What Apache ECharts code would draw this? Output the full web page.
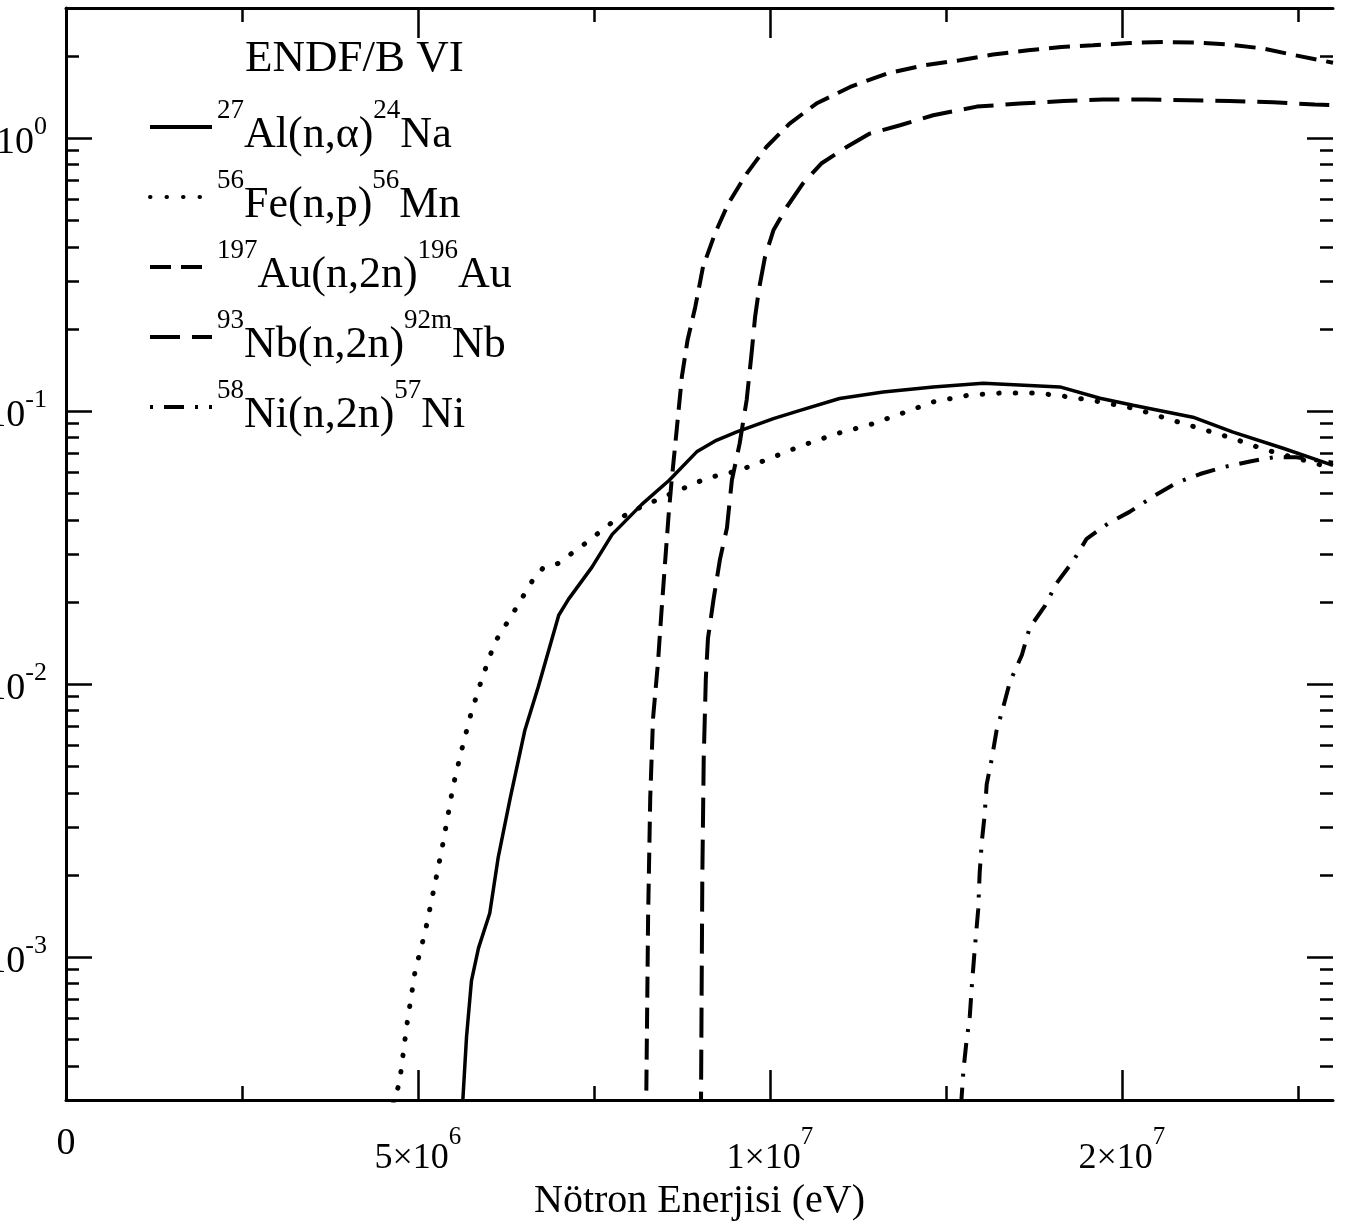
<!DOCTYPE html>
<html>
<head>
<meta charset="utf-8">
<title>ENDF/B VI</title>
<script src="https://cdn.jsdelivr.net/npm/echarts@6/dist/echarts.min.js"></script>
<style>
  html, body { margin: 0; padding: 0; background: #fff; }
  #chart { width: 1349px; height: 1228px; }
</style>
</head>
<body>
<div id="chart"></div>
<script>
// energies in MeV, cross sections
const alE = [5.62, 5.69, 5.76, 5.86, 6.02, 6.14, 6.31, 6.52, 6.71, 7.00, 7.14, 7.47, 7.76, 8.18, 8.57, 8.96, 9.24, 9.53, 10.05, 10.43, 10.99, 11.61, 12.32, 13.03, 14.12, 14.69, 15.16, 16.01, 16.58, 17.29, 18.0];
const alSigma = [2.5e-4, 5.1e-4, 8.2e-4, 1.08e-3, 1.45e-3, 2.32e-3, 3.82e-3, 6.8e-3, 9.8e-3, 0.0179, 0.0205, 0.0268, 0.0354, 0.0456, 0.0559, 0.0710, 0.0783, 0.0840, 0.0940, 0.1008, 0.1114, 0.1177, 0.1228, 0.1267, 0.1228, 0.1116, 0.1052, 0.0951, 0.0838, 0.0732, 0.0634];

const feE = [4.65, 4.74, 4.84, 4.96, 5.10, 5.26, 5.36, 5.50, 5.62, 5.75, 5.91, 6.09, 6.35, 6.62, 6.78, 6.99, 7.37, 7.77, 8.20, 8.65, 9.10, 9.57, 10.05, 10.47, 10.95, 11.40, 11.87, 12.32, 12.82, 13.29, 13.79, 14.26, 14.71, 15.19, 15.64, 16.11, 16.58, 17.03, 17.50, 18.0];
const feSigma = [2.9e-4, 3.5e-4, 5.6e-4, 8.9e-4, 1.23e-3, 1.96e-3, 2.65e-3, 4.24e-3, 5.73e-3, 7.75e-3, 0.0105, 0.0142, 0.0182, 0.0238, 0.0267, 0.0277, 0.0327, 0.0394, 0.0450, 0.0506, 0.0568, 0.0608, 0.0680, 0.0751, 0.0828, 0.0889, 0.0981, 0.1082, 0.1145, 0.1167, 0.1167, 0.1128, 0.1081, 0.1022, 0.0940, 0.0865, 0.0795, 0.0724, 0.0671, 0.0618];

const auE = [8.24, 8.27, 8.30, 8.34, 8.41, 8.46, 8.51, 8.56, 8.60, 8.68, 8.75, 8.83, 8.94, 9.05, 9.22, 9.41, 9.67, 9.95, 10.28, 10.66, 11.14, 11.66, 12.20, 12.70, 13.17, 13.67, 14.14, 14.59, 15.11, 15.59, 16.06, 16.53, 17.01, 17.46, 18.0];
const auSigma = [2.5e-4, 1.41e-3, 3.84e-3, 7.5e-3, 0.0120, 0.0185, 0.0277, 0.0413, 0.0543, 0.0876, 0.134, 0.182, 0.241, 0.338, 0.448, 0.577, 0.742, 0.929, 1.132, 1.340, 1.541, 1.726, 1.851, 1.931, 2.026, 2.101, 2.160, 2.191, 2.234, 2.253, 2.241, 2.204, 2.131, 2.014, 1.891];

const nbE = [9.02, 9.03, 9.04, 9.06, 9.09, 9.12, 9.20, 9.29, 9.39, 9.46, 9.57, 9.67, 9.74, 9.79, 9.85, 9.93, 10.05, 10.24, 10.47, 10.73, 11.09, 11.42, 11.85, 12.32, 12.94, 13.55, 14.17, 14.73, 15.35, 15.94, 16.53, 17.15, 17.74, 18.0];
const nbSigma = [2.5e-4, 7.2e-4, 1.96e-3, 5.36e-3, 0.0105, 0.0147, 0.0205, 0.0286, 0.0374, 0.0559, 0.0761, 0.110, 0.163, 0.222, 0.285, 0.367, 0.460, 0.560, 0.683, 0.808, 0.929, 1.040, 1.116, 1.214, 1.306, 1.340, 1.369, 1.386, 1.386, 1.378, 1.369, 1.355, 1.329, 1.321];

const niE = [12.70, 12.75, 12.79, 12.84, 12.87, 12.91, 12.96, 12.98, 13.01, 13.05, 13.08, 13.15, 13.22, 13.31, 13.41, 13.58, 13.69, 13.91, 14.07, 14.31, 14.50, 14.81, 15.11, 15.45, 15.78, 16.11, 16.44, 16.82, 17.15, 17.48, 18.0];
const niSigma = [2.5e-4, 3.86e-4, 4.84e-4, 6.08e-4, 7.91e-4, 1.07e-3, 1.50e-3, 2.03e-3, 2.64e-3, 3.30e-3, 4.30e-3, 5.29e-3, 6.76e-3, 8.16e-3, 0.0102, 0.0128, 0.0161, 0.0194, 0.0234, 0.0283, 0.0341, 0.0389, 0.0428, 0.0488, 0.0547, 0.0589, 0.0624, 0.0655, 0.0678, 0.0678, 0.0648];

const seriesNames = ['Al', 'Fe', 'Au', 'Nb', 'Ni'];
const legendLabels = [
  '{s|27}{m|Al(n,α)}{s|24}{m|Na}',
  '{s|56}{m|Fe(n,p)}{s|56}{m|Mn}',
  '{s|197}{m|Au(n,2n)}{s|196}{m|Au}',
  '{s|93}{m|Nb(n,2n)}{s|92m}{m|Nb}',
  '{s|58}{m|Ni(n,2n)}{s|57}{m|Ni}'
];

const xTickValues = [0, 5e6, 1e7, 1.5e7];
const xTickLabels = ['{z|0}', '{m|5×10}{s|6}', '{m|1×10}{s|7}', '{m|2×10}{s|7}'];
const xMajorTicks = [5e6, 1e7, 1.5e7];
const xMinorTicks = [2.5e6, 7.5e6, 12.5e6, 17.5e6];
const yDecadeExp = [-3, -2, -1, 0];

const ink = '#000';
const serif = 'Liberation Serif';

// minor ticks of the log axis: 2..9 times each decade, inside the frame
const yMinorTicks = [];
[1e-4, 1e-3, 1e-2, 1e-1, 1].forEach(d => {
  for (let m = 2; m <= 9; m++) {
    const v = m * d;
    if (v > 3.05e-4 && v < 2.95) yMinorTicks.push(v);
  }
});

const pairs = (e, s) => e.map((x, i) => [x * 1e6, s[i]]);

function lineSeries(name, e, s, style) {
  return {
    name: name,
    type: 'line',
    xAxisIndex: 0,
    yAxisIndex: 0,
    data: pairs(e, s),
    symbol: 'none',
    showSymbol: false,
    clip: true,
    lineStyle: Object.assign({ color: ink }, style),
    itemStyle: { color: ink },
    z: 3
  };
}

function xAxisFor(grid, pos, ticks, len, showLine, withLabels) {
  const ax = {
    gridIndex: grid,
    type: 'value',
    position: pos,
    min: 0,
    max: 18e6,
    axisLine: { show: showLine, onZero: false, lineStyle: { color: ink, width: 3 } },
    axisTick: { show: true, inside: true, length: len, customValues: ticks, lineStyle: { color: ink, width: 2.5 } },
    axisLabel: { show: false },
    splitLine: { show: false }
  };
  if (withLabels) {
    ax.axisLabel = {
      show: true,
      customValues: xTickValues,
      margin: 25,
      formatter: v => {
        const i = xTickValues.findIndex(t => Math.abs(t - v) < 1);
        return i < 0 ? '' : xTickLabels[i];
      },
      color: ink,
      fontFamily: serif,
      rich: {
        m: { fontSize: 36, fontFamily: serif, color: ink, lineHeight: 52, verticalAlign: 'bottom' },
        s: { fontSize: 25, fontFamily: serif, color: ink, lineHeight: 52, verticalAlign: 'top' },
        z: { fontSize: 38, fontFamily: serif, color: ink, lineHeight: 52, verticalAlign: 'top' }
      }
    };
    ax.name = 'Nötron Enerjisi (eV)';
    ax.nameLocation = 'middle';
    ax.nameGap = 73;
    ax.nameTextStyle = { fontFamily: serif, fontSize: 40, color: ink };
  }
  return ax;
}

function yAxisFor(grid, pos, minor, showLine, withLabels) {
  const ax = {
    gridIndex: grid,
    type: 'log',
    logBase: 10,
    position: pos,
    min: 3e-4,
    max: 3,
    axisLine: { show: showLine, onZero: false, lineStyle: { color: ink, width: 3 } },
    axisTick: { show: true, inside: true, length: minor ? 13 : 26, lineStyle: { color: ink, width: 2.5 } },
    axisLabel: { show: false },
    splitLine: { show: false },
    minorTick: { show: false }
  };
  if (minor) ax.axisTick.customValues = yMinorTicks;
  if (withLabels) {
    ax.axisLabel = {
      show: true,
      margin: 19,
      showMinLabel: false,
      showMaxLabel: false,
      formatter: v => {
        const p = Math.log10(v);
        const i = yDecadeExp.findIndex(k => Math.abs(k - p) < 1e-6);
        return i < 0 ? '' : '{m|10}{s|' + yDecadeExp[i] + '}';
      },
      color: ink,
      fontFamily: serif,
      rich: {
        m: { fontSize: 38, fontFamily: serif, color: ink, lineHeight: 48, verticalAlign: 'bottom' },
        s: { fontSize: 26, fontFamily: serif, color: ink, lineHeight: 48, verticalAlign: 'top' }
      }
    };
  }
  return ax;
}

const gridBox = { left: 66, right: 16, top: 8, bottom: 128, containLabel: false, outerBoundsMode: 'none' };

const chart = echarts.init(document.getElementById('chart'), null, { renderer: 'canvas' });

chart.setOption({
  animation: false,
  backgroundColor: '#fff',
  title: {
    text: 'ENDF/B VI',
    left: 245,
    top: 37,
    padding: 0,
    textStyle: { fontFamily: serif, fontSize: 45, fontWeight: 'normal', color: ink }
  },
  legend: {
    orient: 'vertical',
    left: 148,
    top: 97,
    padding: 0,
    itemWidth: 62,
    itemHeight: 12,
    itemGap: 10,
    selectedMode: false,
    data: seriesNames,
    itemStyle: { opacity: 0 },
    lineStyle: { width: 4 },
    formatter: n => legendLabels[seriesNames.indexOf(n)],
    textStyle: {
      color: ink,
      fontFamily: serif,
      rich: {
        m: { fontSize: 44, fontFamily: serif, color: ink, lineHeight: 60, verticalAlign: 'bottom' },
        s: { fontSize: 27, fontFamily: serif, color: ink, lineHeight: 60, verticalAlign: 'top' }
      }
    }
  },
  // second grid on the same box only carries the minor ticks
  grid: [gridBox, Object.assign({}, gridBox)],
  xAxis: [
    xAxisFor(0, 'bottom', xMajorTicks, 30, true, true),
    xAxisFor(0, 'top', xMajorTicks, 30, true, false),
    xAxisFor(1, 'bottom', xMinorTicks, 14, false, false),
    xAxisFor(1, 'top', xMinorTicks, 14, false, false)
  ],
  yAxis: [
    yAxisFor(0, 'left', false, true, true),
    yAxisFor(0, 'right', false, false, false),
    yAxisFor(1, 'left', true, false, false),
    yAxisFor(1, 'right', true, false, false)
  ],
  series: [
    lineSeries('Al', alE, alSigma, { type: 'solid', width: 3.5 }),
    lineSeries('Fe', feE, feSigma, { type: [0.5, 16], width: 5, cap: 'round' }),
    lineSeries('Au', auE, auSigma, { type: [21, 10], width: 4 }),
    lineSeries('Nb', nbE, nbSigma, { type: [30, 12], width: 4 }),
    lineSeries('Ni', niE, niSigma, { type: [3, 11, 20, 11], width: 4 })
  ]
});
</script>
</body>
</html>
